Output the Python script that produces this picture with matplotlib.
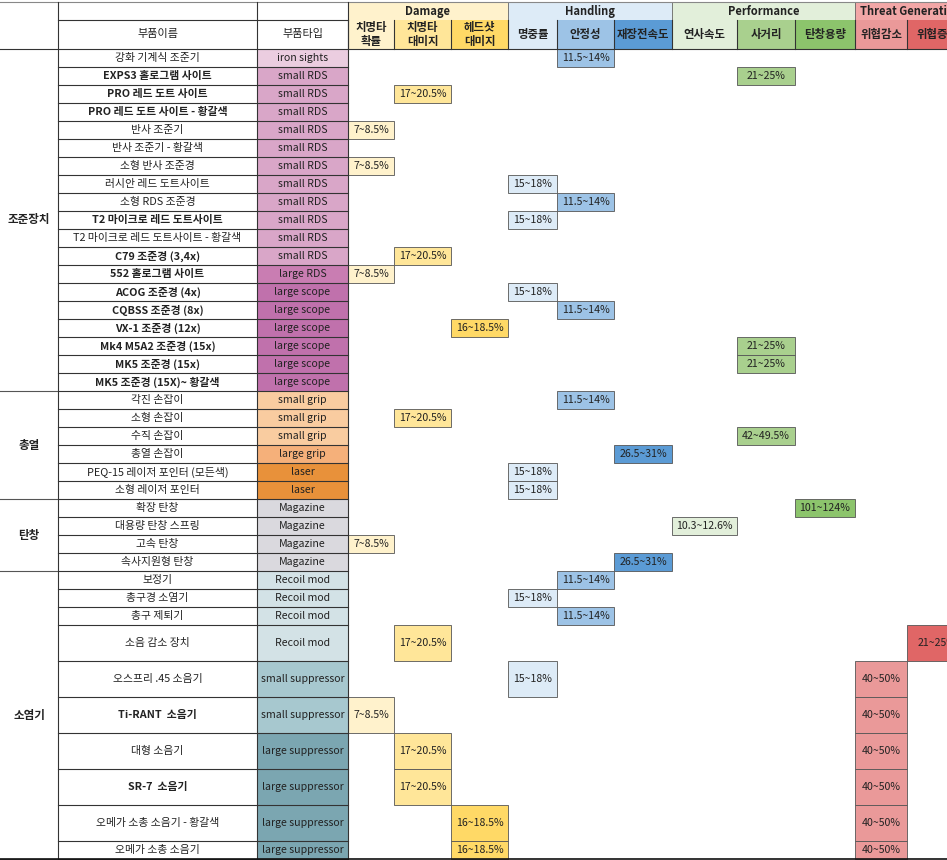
import matplotlib
matplotlib.use('Agg')
import matplotlib.pyplot as plt
from matplotlib.patches import Rectangle

plt.rcParams['font.family'] = ['Noto Sans CJK KR', 'DejaVu Sans']

# ---------------------------------------------------------------------------
# data
groups = ['Damage', 'Handling', 'Performance', 'Threat Generation']
group_sizes = [3, 3, 3, 2]
stat_names = ['치명타\n확률', '치명타\n대미지', '헤드샷\n대미지', '명중률', '안정성',
              '재장전속도', '연사속도', '사거리', '탄창용량', '위협감소', '위협증가']

categories = ['조준장치', '총열', '탄창', '소염기']
category_sizes = [19, 6, 4, 10]

part_names = [
    '강화 기계식 조준기', 'EXPS3 홀로그램 사이트', 'PRO 레드 도트 사이트',
    'PRO 레드 도트 사이트 - 황갈색', '반사 조준기', '반사 조준기 - 황갈색',
    '소형 반사 조준경', '러시안 레드 도트사이트', '소형 RDS 조준경',
    'T2 마이크로 레드 도트사이트', 'T2 마이크로 레드 도트사이트 - 황갈색',
    'C79 조준경 (3,4x)', '552 홀로그램 사이트', 'ACOG 조준경 (4x)',
    'CQBSS 조준경 (8x)', 'VX-1 조준경 (12x)', 'Mk4 M5A2 조준경 (15x)',
    'MK5 조준경 (15x)', 'MK5 조준경 (15X)~ 황갈색',
    '각진 손잡이', '소형 손잡이', '수직 손잡이', '총열 손잡이',
    'PEQ-15 레이저 포인터 (모든색)', '소형 레이저 포인터',
    '확장 탄창', '대용량 탄창 스프링', '고속 탄창', '속사지원형 탄창',
    '보정기', '총구경 소염기', '총구 제퇴기', '소음 감소 장치',
    '오스프리 .45 소음기', 'Ti-RANT  소음기', '대형 소음기', 'SR-7  소음기',
    '오메가 소총 소음기 - 황갈색', '오메가 소총 소음기',
]
bold_names = ['EXPS3 홀로그램 사이트', 'PRO 레드 도트 사이트',
              'PRO 레드 도트 사이트 - 황갈색', 'T2 마이크로 레드 도트사이트',
              'C79 조준경 (3,4x)', '552 홀로그램 사이트', 'ACOG 조준경 (4x)',
              'CQBSS 조준경 (8x)', 'VX-1 조준경 (12x)', 'Mk4 M5A2 조준경 (15x)',
              'MK5 조준경 (15x)', 'MK5 조준경 (15X)~ 황갈색',
              'Ti-RANT  소음기', 'SR-7  소음기']

part_types = (['iron sights'] + ['small RDS'] * 11 + ['large RDS'] + ['large scope'] * 6
              + ['small grip'] * 3 + ['large grip'] + ['laser'] * 2
              + ['Magazine'] * 4 + ['Recoil mod'] * 4
              + ['small suppressor'] * 2 + ['large suppressor'] * 4)

# stat bonus per part: (stat index, value text)
part_stats = [
    [(4, '11.5~14%')], [(7, '21~25%')], [(1, '17~20.5%')], [],
    [(0, '7~8.5%')], [], [(0, '7~8.5%')], [(3, '15~18%')], [(4, '11.5~14%')],
    [(3, '15~18%')], [], [(1, '17~20.5%')], [(0, '7~8.5%')], [(3, '15~18%')],
    [(4, '11.5~14%')], [(2, '16~18.5%')], [(7, '21~25%')], [(7, '21~25%')], [],
    [(4, '11.5~14%')], [(1, '17~20.5%')], [(7, '42~49.5%')], [(5, '26.5~31%')],
    [(3, '15~18%')], [(3, '15~18%')],
    [(8, '101~124%')], [(6, '10.3~12.6%')], [(0, '7~8.5%')], [(5, '26.5~31%')],
    [(4, '11.5~14%')], [(3, '15~18%')], [(4, '11.5~14%')],
    [(1, '17~20.5%'), (10, '21~25%')],
    [(3, '15~18%'), (9, '40~50%')], [(0, '7~8.5%'), (9, '40~50%')],
    [(1, '17~20.5%'), (9, '40~50%')], [(1, '17~20.5%'), (9, '40~50%')],
    [(2, '16~18.5%'), (9, '40~50%')], [(2, '16~18.5%'), (9, '40~50%')],
]

# ---------------------------------------------------------------------------
# styles / layout
group_colors = ['#FFF2CC', '#DDEBF7', '#E2EFDA', '#F2A7A7']
stat_colors = ['#FFF2CC', '#FFE699', '#FFD966', '#DDEBF7', '#9DC3E6', '#5B9BD5',
               '#E2EFDA', '#A9D08E', '#8CC46C', '#EA9999', '#E06666']
type_colors = {'iron sights': '#EBCDE0', 'small RDS': '#D9A6C8', 'large RDS': '#C97DB2',
               'large scope': '#C071AC', 'small grip': '#F9CCA0', 'large grip': '#F5B07A',
               'laser': '#E8913A', 'Magazine': '#DAD9DE', 'Recoil mod': '#D3E2E6',
               'small suppressor': '#A7C8CF', 'large suppressor': '#7BA6B1'}

x_edges = [0, 58, 257, 348, 394, 451, 508, 557, 614, 672, 737, 795, 855, 907, 967]
y_top, y_mid, y_head = 2, 20, 49
unit = 18
tall_from, tall_to = 32, 37  # rows drawn double height
fs = 7.8
tc = '#222222'
lc = '#333333'

fig = plt.figure(figsize=(9.47, 8.60), dpi=100)
ax = fig.add_axes([0, 0, 1, 1])
ax.set_xlim(0, 947)
ax.set_ylim(860, 0)
ax.axis('off')


def cell(x0, x1, y0, y1, color, edge=None, lw=0.8):
    ax.add_patch(Rectangle((x0, y0), x1 - x0, y1 - y0, facecolor=color,
                           edgecolor=edge if edge else 'none', linewidth=lw))


# row positions
row_y = []
y = y_head
for i in range(len(part_names)):
    h = unit * 2 if tall_from <= i <= tall_to else unit
    row_y.append((y, y + h))
    y += h

# header: groups
c = 3
for g, n, col in zip(groups, group_sizes, group_colors):
    x0, x1 = x_edges[c], x_edges[c + n]
    cell(x0, x1, y_top, y_mid, col)
    ax.plot([x0, x0], [y_top, y_mid], color='#666666', lw=0.6)
    ax.text((x0 + x1) / 2, (y_top + y_mid) / 2 + 0.5, g, ha='center', va='center',
            fontsize=8, fontweight='bold', color=tc)
    c += n

# header: stat names
for k, (name, col) in enumerate(zip(stat_names, stat_colors)):
    x0, x1 = x_edges[3 + k], x_edges[4 + k]
    cell(x0, x1, y_mid, y_head, col)
    ax.plot([x0, x0], [y_mid, y_head], color=lc, lw=0.8)
    ax.text((x0 + x1) / 2, (y_mid + y_head) / 2, name, ha='center', va='center',
            fontsize=8.2, fontweight='bold', color=tc, linespacing=1.0)

ax.text((x_edges[1] + x_edges[2]) / 2, (y_mid + y_head) / 2, '부품이름', ha='center',
        va='center', fontsize=8, color=tc)
ax.text((x_edges[2] + x_edges[3]) / 2, (y_mid + y_head) / 2, '부품타입', ha='center',
        va='center', fontsize=8, color=tc)

# body
for i, (name, ptype, stats) in enumerate(zip(part_names, part_types, part_stats)):
    y0, y1 = row_y[i]
    ym = (y0 + y1) / 2
    cell(x_edges[2], x_edges[3], y0, y1, type_colors[ptype])
    ax.text((x_edges[1] + x_edges[2]) / 2, ym, name, ha='center', va='center',
            fontsize=fs, color=tc,
            fontweight='bold' if name in bold_names else 'normal')
    ax.text((x_edges[2] + x_edges[3]) / 2, ym, ptype, ha='center', va='center',
            fontsize=7.6, color=tc)
    ax.plot([x_edges[1], x_edges[3]], [y1, y1], color=lc, lw=0.8)
    for k, val in stats:
        x0, x1 = x_edges[3 + k], x_edges[4 + k]
        cell(x0, x1, y0, y1, stat_colors[k], edge='#555555', lw=0.6)
        ax.text((x0 + x1) / 2, ym, val, ha='center', va='center',
                fontsize=7.6, color=tc)

# categories
r = 0
for cat, n in zip(categories, category_sizes):
    y0 = row_y[r][0]
    y1 = row_y[r + n - 1][1]
    ax.text(x_edges[1] / 2, (y0 + y1) / 2, cat, ha='center', va='center',
            fontsize=8.3, fontweight='bold', color=tc)
    ax.plot([0, x_edges[1]], [y1, y1], color='#555555', lw=0.8)
    r += n

# frame lines
ax.plot([0, 947], [y_top, y_top], color='#888888', lw=0.8)
ax.plot([x_edges[1], x_edges[3]], [y_mid, y_mid], color=lc, lw=0.8)
ax.plot([0, 947], [y_head, y_head], color=lc, lw=0.8)
for xe in x_edges[1:4]:
    ax.plot([xe, xe], [y_top, 860], color=lc, lw=0.8)
ax.plot([0, 947], [859, 859], color='#111111', lw=1.2)

fig.savefig('out.png', dpi=100)
